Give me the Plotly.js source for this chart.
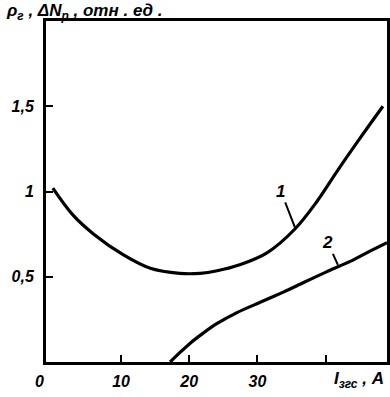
<!DOCTYPE html>
<html>
<head>
<meta charset="utf-8">
<script src="https://cdn.plot.ly/plotly-3.0.1.min.js"></script>
<style>html,body{margin:0;padding:0;background:#fff;}#chart{width:390px;height:397px;}</style>
</head>
<body>
<div id="chart"></div>
<script>
// Curve 1: ρг vs I
const curve1X = [0, 3, 6, 10.3, 14.3, 18.6, 21.6, 24.1, 27.4, 31.4, 35.5, 38.7, 41.7, 45, 48.4];
const curve1Y = [1.02, 0.86, 0.75, 0.63, 0.55, 0.52, 0.52, 0.535, 0.57, 0.64, 0.78, 0.94, 1.12, 1.31, 1.5];
// Curve 2: ΔNр vs I
const curve2X = [17.2, 18.65, 20.1, 22.0, 24.1, 27.0, 30.4, 33.8, 36.7, 40.2, 43.6, 46.5, 49.0];
const curve2Y = [0, 0.056, 0.109, 0.168, 0.226, 0.29, 0.35, 0.41, 0.465, 0.53, 0.59, 0.65, 0.70];

const xTickVals = [10, 20, 30, 40];
const xTickText = ['10', '20', '30', ''];
const yTickVals = [0.5, 1, 1.5];
const yTickText = ['0,5', '1', '1,5'];
const curveLabels = ['1', '2'];

const fnt = {family: 'Liberation Sans, Arial, sans-serif', size: 16, color: '#000', weight: 'bold', style: 'italic'};

const traces = [
  {x: curve1X, y: curve1Y, mode: 'lines', line: {color: '#000', width: 3.2, shape: 'spline', smoothing: 1}, hoverinfo: 'skip'},
  {x: curve2X, y: curve2Y, mode: 'lines', line: {color: '#000', width: 3.2, shape: 'spline', smoothing: 0.6}, hoverinfo: 'skip'}
];

const layout = {
  width: 390, height: 397,
  margin: {l: 46, r: 3, t: 21, b: 35},
  paper_bgcolor: '#fff', plot_bgcolor: '#fff',
  showlegend: false,
  font: fnt,
  xaxis: {
    range: [-1, 49], tickvals: xTickVals, ticktext: xTickText,
    ticks: 'inside', ticklen: 7, tickwidth: 2, tickcolor: '#000',
    showline: true, linewidth: 3, linecolor: '#000', mirror: true,
    showgrid: false, zeroline: false, tickfont: fnt, ticklabelstandoff: 3
  },
  yaxis: {
    range: [0, 2], tickvals: yTickVals, ticktext: yTickText,
    ticks: 'inside', ticklen: 7, tickwidth: 2, tickcolor: '#000',
    showline: true, linewidth: 3, linecolor: '#000', mirror: true,
    showgrid: false, zeroline: false, tickfont: fnt, ticklabelstandoff: 6
  },
  annotations: [
    {x: 35.5, y: 0.79, xref: 'x', yref: 'y', text: curveLabels[0], showarrow: true, arrowhead: 0, arrowwidth: 2, arrowcolor: '#000', ax: -14, ay: -36, font: {...fnt, size: 17}, standoff: 0},
    {x: 41.8, y: 0.57, xref: 'x', yref: 'y', text: curveLabels[1], showarrow: true, arrowhead: 0, arrowwidth: 2, arrowcolor: '#000', ax: -10, ay: -22, font: {...fnt, size: 17}, standoff: 0},
    {x: 39, y: 381, xref: 'paper', yref: 'paper', text: '0', showarrow: false, font: fnt, xanchor: 'center', yanchor: 'middle'},
    {x: 4, y: 12, xref: 'paper', yref: 'paper', text: 'ρ<sub>г</sub> , ΔN<sub>р</sub> , отн . ед .', showarrow: false, font: {...fnt, size: 17}, xanchor: 'left', yanchor: 'middle'},
    {x: 386, y: 380, xref: 'paper', yref: 'paper', text: 'I<sub>згс</sub> , A', showarrow: false, font: {...fnt, size: 17}, xanchor: 'right', yanchor: 'middle'}
  ]
};

// convert pixel-based label positions to paper coords
const pw = 390 - 46 - 3, ph = 397 - 21 - 35;
layout.annotations.forEach(a => {
  if (a.xref === 'paper') {
    a.x = (a.x - 46) / pw;
    a.y = (397 - 35 - a.y) / ph;
  }
});

Plotly.newPlot('chart', traces, layout, {displayModeBar: false, staticPlot: true});
</script>
</body>
</html>
